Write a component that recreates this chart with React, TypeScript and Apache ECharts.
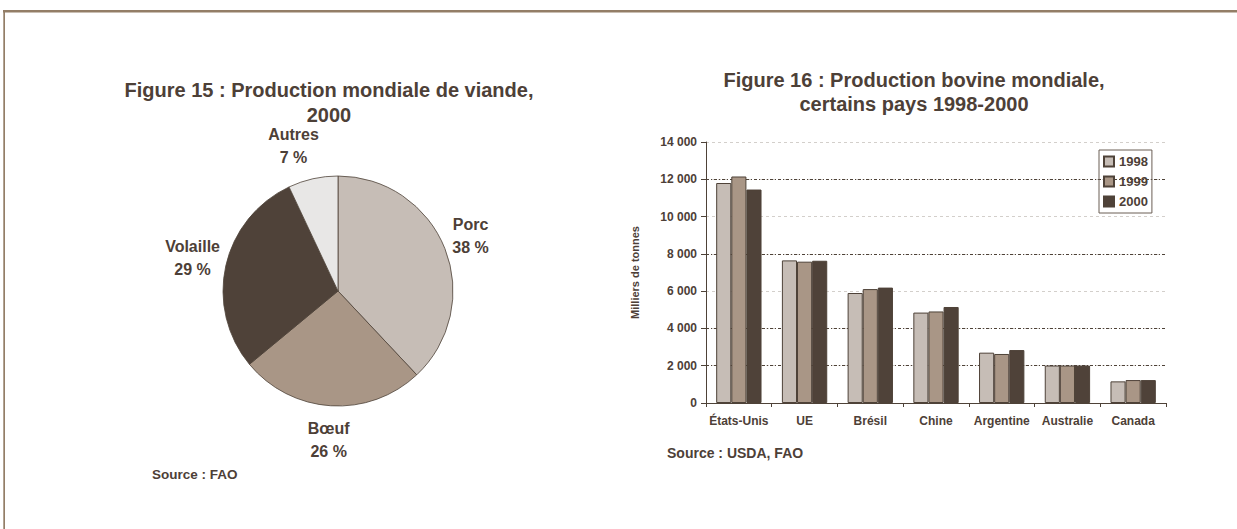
import React, { useEffect, useRef } from 'react';
import * as echarts from 'echarts';

// ---- Data ----
const meatCategories = ['Porc', 'Bœuf', 'Volaille', 'Autres'];
const meatShares = [38, 26, 29, 7];

const countries = ['États-Unis', 'UE', 'Brésil', 'Chine', 'Argentine', 'Australie', 'Canada'];
const years = ['1998', '1999', '2000'];
const prod1998 = [11800, 7650, 5900, 4850, 2700, 2010, 1160];
const prod1999 = [12150, 7580, 6110, 4910, 2630, 2010, 1230];
const prod2000 = [11450, 7630, 6190, 5150, 2840, 2010, 1230];
const darkGridValues = [2000, 4000, 8000, 12000];
const yMax = 14000;
const yStep = 2000;

// ---- Styles ----
const TEXT = '#4d4037';
const EDGE = '#4e4238';
const FRAME = '#937e67';
const pieColors = ['#c6bdb6', '#a99686', '#4f4239', '#e8e7e6'];
const pieLabelPadding = [[0, 12, 0, 0], [0, 0, 0, 0], [0, 0, 0, 0], [0, 24, 0, 0]];
const barColors = ['#c6bdb6', '#a99686', '#4f4239'];
const FONT = '"Liberation Sans", Arial, sans-serif';

export default function App() {
  const ref = useRef<HTMLDivElement>(null);

  useEffect(() => {
    const chart = echarts.init(ref.current!, null, { renderer: 'svg' });
    const barData = [prod1998, prod1999, prod2000];
    const pieData = meatCategories.map((n, i) => ({
      name: n,
      value: meatShares[i],
      itemStyle: { color: pieColors[i] },
    }));

    chart.setOption({
      animation: false,
      backgroundColor: '#ffffff',
      textStyle: { fontFamily: FONT },
      graphic: [
        { type: 'rect', shape: { x: 3, y: 10, width: 1234, height: 2.5 }, style: { fill: FRAME }, silent: true },
        { type: 'rect', shape: { x: 3.3, y: 10, width: 1.7, height: 519 }, style: { fill: FRAME }, silent: true },
        {
          type: 'text', x: 329, y: 77, silent: true,
          style: {
            text: 'Figure 15 : Production mondiale de viande,\n2000',
            fill: TEXT, font: `bold 20px ${FONT}`, textAlign: 'center', textVerticalAlign: 'top', lineHeight: 25,
          },
        },
        {
          type: 'text', x: 914, y: 68, silent: true,
          style: {
            text: 'Figure 16 : Production bovine mondiale,\ncertains pays 1998-2000',
            fill: TEXT, font: `bold 20px ${FONT}`, textAlign: 'center', textVerticalAlign: 'top', lineHeight: 24,
          },
        },
        {
          type: 'text', x: 152, y: 474, silent: true,
          style: { text: 'Source : FAO', fill: TEXT, font: `bold 13.5px ${FONT}`, textAlign: 'left', textVerticalAlign: 'middle' },
        },
        {
          type: 'text', x: 667, y: 453, silent: true,
          style: { text: 'Source : USDA, FAO', fill: TEXT, font: `bold 14px ${FONT}`, textAlign: 'left', textVerticalAlign: 'middle' },
        },
      ],
      legend: {
        orient: 'vertical',
        left: 1099,
        top: 150,
        data: years,
        icon: 'rect',
        itemWidth: 10,
        itemHeight: 10,
        itemGap: 7,
        padding: [5, 4, 5, 4],
        borderColor: '#6b5e55',
        borderWidth: 1,
        textStyle: { fontSize: 13, fontWeight: 'bold', color: TEXT, fontFamily: FONT },
      },
      grid: { left: 706, right: 71, top: 142, bottom: 126 },
      xAxis: {
        type: 'category',
        data: countries,
        axisLine: { lineStyle: { color: EDGE, width: 1 } },
        axisTick: { show: true, length: 4, lineStyle: { color: EDGE } },
        axisLabel: { interval: 0, fontSize: 12, fontWeight: 'bold', color: TEXT, margin: 12, fontFamily: FONT },
      },
      yAxis: {
        type: 'value',
        min: 0,
        max: yMax,
        interval: yStep,
        name: 'Milliers de tonnes',
        nameLocation: 'middle',
        nameGap: 66,
        nameRotate: 90,
        nameTextStyle: { fontSize: 11, fontWeight: 'bold', color: TEXT, fontFamily: FONT },
        axisLine: { show: true, lineStyle: { color: EDGE, width: 1 } },
        axisTick: { show: true, length: 5, lineStyle: { color: EDGE } },
        axisLabel: {
          fontSize: 12, fontWeight: 'bold', color: TEXT, margin: 9, fontFamily: FONT,
          formatter: (v: number) => String(v).replace(/\B(?=(\d{3})+(?!\d))/g, ' '),
        },
        splitLine: { show: true, lineStyle: { color: '#d3cfcb', type: [3, 3], width: 1 } },
      },
      series: [
        ...years.map((y, i) => ({
          type: 'bar',
          name: y,
          data: barData[i],
          barGap: '0%',
          barCategoryGap: '31%',
          z: 2,
          itemStyle: { color: barColors[i], borderColor: EDGE, borderWidth: 1 },
          ...(i === 0
            ? {
                markLine: {
                  silent: true,
                  z: 1,
                  symbol: ['none', 'none'],
                  label: { show: false },
                  lineStyle: { color: EDGE, type: [3, 2, 1, 2], width: 1 },
                  data: darkGridValues.map((v) => ({ yAxis: v })),
                },
              }
            : {}),
        })),
        {
          type: 'pie',
          center: [338, 291],
          radius: 115,
          startAngle: 90,
          clockwise: true,
          silent: true,
          data: pieData,
          label: { show: false },
          labelLine: { show: false },
          itemStyle: { borderColor: EDGE, borderWidth: 0.8 },
        },
        {
          type: 'pie',
          center: [338, 291],
          radius: [0, 292],
          startAngle: 90,
          clockwise: true,
          silent: true,
          z: 3,
          data: meatCategories.map((n, i) => ({
            name: n,
            value: meatShares[i],
            label: { padding: pieLabelPadding[i] },
          })),
          itemStyle: { color: 'rgba(0,0,0,0)', borderWidth: 0 },
          label: {
            show: true,
            position: 'inside',
            rotate: 0,
            formatter: '{b}\n{c} %',
            fontSize: 16,
            fontWeight: 'bold',
            color: TEXT,
            lineHeight: 23,
            fontFamily: FONT,
          },
          labelLine: { show: false },
          emphasis: { disabled: true },
        },
      ],
    });

    return () => chart.dispose();
  }, []);

  return (
    <div
      ref={ref}
      style={{ position: 'fixed', left: 0, top: 0, width: 1237, height: 529, background: '#fff' }}
    />
  );
}
